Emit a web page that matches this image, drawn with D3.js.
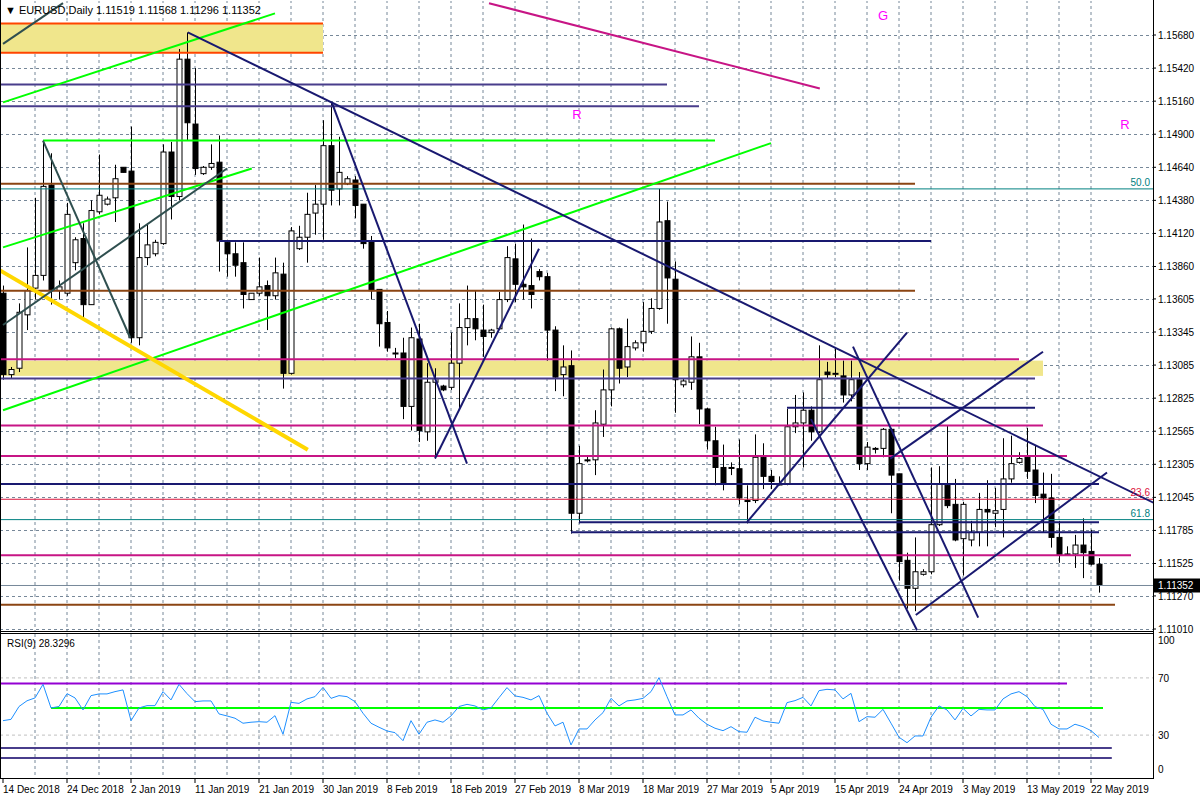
<!DOCTYPE html>
<html>
<head>
<meta charset="utf-8">
<script src="https://cdn.jsdelivr.net/npm/d3@7"></script>
<style>
  body { margin: 0; background: #fff; }
  svg text { font-family: "Liberation Sans", Arial, sans-serif; }
</style>
</head>
<body>
<div id="chart"></div>
<script>
// EURUSD daily candles [open, high, low, close]
const candles = [
  [1.1365,1.1371,1.1297,1.1301],[1.1301,1.1307,1.1298,1.1305],[1.1306,1.1357,1.1303,1.1350],[1.1348,1.1401,1.1336,1.1367],
  [1.1369,1.1440,1.1360,1.1379],[1.1379,1.1485,1.1375,1.1449],[1.1450,1.1475,1.1356,1.1367],[1.1367,1.1375,1.1360,1.1370],
  [1.1365,1.1436,1.1363,1.1427],[1.1389,1.1409,1.1383,1.1407],[1.1408,1.1420,1.1346,1.1356],[1.1356,1.1438,1.1356,1.1430],
  [1.1429,1.1474,1.1427,1.1442],[1.1435,1.1441,1.1434,1.1439],[1.1440,1.1466,1.1421,1.1455],[1.1464,1.1464,1.1460,1.1460],
  [1.1461,1.1496,1.1326,1.1330],[1.1330,1.1420,1.1324,1.1393],[1.1393,1.1420,1.1387,1.1403],[1.1396,1.1407,1.1394,1.1405],
  [1.1404,1.1482,1.1403,1.1476],[1.1476,1.1484,1.1423,1.1441],[1.1441,1.1557,1.1438,1.1549],[1.1549,1.1570,1.1485,1.1499],
  [1.1498,1.1542,1.1458,1.1463],[1.1459,1.1465,1.1458,1.1464],[1.1464,1.1482,1.1462,1.1467],[1.1468,1.1489,1.1382,1.1406],
  [1.1405,1.1407,1.1378,1.1396],[1.1396,1.1405,1.1378,1.1387],[1.1389,1.1405,1.1353,1.1364],[1.1360,1.1365,1.1360,1.1365],
  [1.1365,1.1393,1.1363,1.1370],[1.1371,1.1375,1.1336,1.1363],[1.1363,1.1393,1.1360,1.1381],[1.1380,1.1389,1.1290,1.1302],
  [1.1302,1.1417,1.1301,1.1414],[1.1400,1.1418,1.1399,1.1409],[1.1409,1.1444,1.1389,1.1427],[1.1428,1.1450,1.1411,1.1435],
  [1.1435,1.1501,1.1407,1.1481],[1.1481,1.1515,1.1434,1.1446],[1.1447,1.1488,1.1434,1.1460],[1.1451,1.1457,1.1450,1.1455],
  [1.1454,1.1457,1.1424,1.1434],[1.1435,1.1435,1.1400,1.1404],[1.1406,1.1410,1.1360,1.1367],[1.1368,1.1368,1.1323,1.1341],
  [1.1342,1.1351,1.1319,1.1322],[1.1318,1.1322,1.1314,1.1318],[1.1318,1.1330,1.1266,1.1276],[1.1276,1.1338,1.1257,1.1330],
  [1.1329,1.1341,1.1248,1.1257],[1.1256,1.1310,1.1249,1.1295],[1.1295,1.1306,1.1235,1.1298],[1.1292,1.1293,1.1288,1.1289],
  [1.1291,1.1334,1.1289,1.1310],[1.1310,1.1357,1.1274,1.1338],[1.1338,1.1371,1.1324,1.1345],[1.1345,1.1367,1.1328,1.1337],
  [1.1336,1.1356,1.1315,1.1331],[1.1334,1.1337,1.1330,1.1336],[1.1337,1.1366,1.1336,1.1360],[1.1360,1.1402,1.1358,1.1393],
  [1.1392,1.1404,1.1358,1.1372],[1.1372,1.1419,1.1360,1.1370],[1.1371,1.1408,1.1353,1.1364],[1.1382,1.1384,1.1375,1.1378],
  [1.1378,1.1381,1.1312,1.1336],[1.1336,1.1339,1.1288,1.1299],[1.1301,1.1324,1.1284,1.1307],[1.1308,1.1320,1.1176,1.1192],
  [1.1192,1.1245,1.1184,1.1231],[1.1234,1.1237,1.1232,1.1234],[1.1234,1.1273,1.1222,1.1263],[1.1262,1.1305,1.1252,1.1289],
  [1.1289,1.1338,1.1276,1.1337],[1.1337,1.1338,1.1294,1.1306],[1.1307,1.1345,1.1299,1.1323],[1.1322,1.1328,1.1320,1.1326],
  [1.1326,1.1358,1.1319,1.1335],[1.1335,1.1361,1.1333,1.1353],[1.1353,1.1447,1.1352,1.1421],[1.1422,1.1437,1.1341,1.1377],
  [1.1376,1.1390,1.1271,1.1297],[1.1293,1.1298,1.1291,1.1296],[1.1295,1.1331,1.1289,1.1315],[1.1315,1.1326,1.1262,1.1274],
  [1.1274,1.1275,1.1242,1.1249],[1.1249,1.1260,1.1214,1.1228],[1.1228,1.1246,1.1210,1.1215],[1.1228,1.1232,1.1222,1.1228],
  [1.1227,1.1250,1.1199,1.1204],[1.1202,1.1214,1.1184,1.1202],[1.1202,1.1254,1.1200,1.1236],[1.1236,1.1247,1.1211,1.1221],
  [1.1221,1.1226,1.1211,1.1217],[1.1215,1.1221,1.1214,1.1215],[1.1215,1.1274,1.1214,1.1260],[1.1260,1.1285,1.1255,1.1263],
  [1.1263,1.1287,1.1228,1.1273],[1.1273,1.1276,1.1249,1.1256],[1.1256,1.1324,1.1255,1.1297],[1.1303,1.1311,1.1298,1.1301],
  [1.1302,1.1322,1.1299,1.1302],[1.1300,1.1312,1.1279,1.1285],[1.1285,1.1312,1.1280,1.1297],[1.1297,1.1303,1.1226,1.1231],
  [1.1231,1.1248,1.1226,1.1244],[1.1243,1.1244,1.1239,1.1243],[1.1243,1.1259,1.1236,1.1258],[1.1258,1.1259,1.1192,1.1222],
  [1.1223,1.1223,1.1139,1.1154],[1.1155,1.1161,1.1117,1.1133],[1.1133,1.1173,1.1115,1.1146],[1.1144,1.1148,1.1143,1.1146],
  [1.1146,1.1228,1.1144,1.1183],[1.1183,1.1229,1.1182,1.1215],[1.1214,1.1261,1.1196,1.1198],[1.1199,1.1219,1.1170,1.1171],
  [1.1172,1.1201,1.1143,1.1199],[1.1171,1.1186,1.1166,1.1177],[1.1177,1.1208,1.1166,1.1195],[1.1195,1.1218,1.1166,1.1193],
  [1.1192,1.1212,1.1181,1.1194],[1.1195,1.1251,1.1173,1.1219],[1.1219,1.1253,1.1216,1.1231],[1.1232,1.1240,1.1231,1.1235],
  [1.1236,1.1259,1.1219,1.1225],[1.1226,1.1245,1.1200,1.1206],[1.1207,1.1224,1.1177,1.1204],[1.1204,1.1223,1.1165,1.1173],
  [1.1173,1.1186,1.1153,1.1159],[1.1160,1.1166,1.1159,1.1160],[1.1160,1.1175,1.1149,1.1167],[1.1167,1.1188,1.1141,1.1161],
  [1.1162,1.1179,1.1151,1.1152],[1.11519,1.11568,1.11296,1.11352]
];

// RSI(9)
const rsi = [
  40.1,41,50,54,56,65.5,49,50,59,56,47.6,57.6,58.8,58.8,60.4,61.6,40.1,49,50.6,50.6,
  60.4,54.6,65.5,59,53.4,53.9,53.9,44.8,43.4,41.8,38.3,39,39.4,39,43.6,30.6,52.9,52.2,55.3,56.9,
  63.4,55.7,57.6,56.9,53.4,45.3,38.3,35.5,32.9,31.7,26.1,40.1,30.6,39,40.6,39,43.4,50,51.5,50.4,
  47.6,49,56.2,63.2,57.4,56.4,54.6,57.6,45.3,36.4,39,23.1,34.3,34.3,40.6,45.7,55.7,50.4,53.9,54.6,
  55.7,60.4,70.2,56.9,44.1,44.1,47.6,41.8,37.6,34.8,33.1,35.9,32.4,32,42.5,39.9,39,38.3,52.7,54.1,
  56.4,50.4,61.1,62,61.6,55.3,59.2,39.4,42.9,42.5,48,38.3,28.5,24.7,29.4,29.4,42.5,50.4,47.6,40.6,
  48.7,43.4,48,47.6,47.6,55.3,58.8,60.4,56.9,49.9,48,37.6,34.3,34.3,37.6,35.9,33.1,28.3
];

const dateLabels = ['14 Dec 2018','24 Dec 2018','2 Jan 2019','11 Jan 2019','21 Jan 2019','30 Jan 2019',
  '8 Feb 2019','18 Feb 2019','27 Feb 2019','8 Mar 2019','18 Mar 2019','27 Mar 2019','5 Apr 2019',
  '15 Apr 2019','24 Apr 2019','3 May 2019','13 May 2019','22 May 2019'];
const priceTicks = [1.15680,1.15420,1.15160,1.14900,1.14640,1.14380,1.14120,1.13860,1.13605,1.13345,
  1.13085,1.12825,1.12565,1.12305,1.12045,1.11785,1.11525,1.11270,1.11010];
const rsiTicks = [100,70,30,0];

// zones [priceTop, priceBottom, barFrom, barTo]
const zones = [[1.1577,1.1554,-1,40],[1.1312,1.1300,-1,130]];
// horizontal levels [price, barFrom, barTo, color, width]
const levels = [
  [1.1577,-1,40,'#ff4500',2],[1.1554,-1,40,'#ff4500',2],
  [1.1529,-1,83,'#483d8b',2],[1.1512,-1,87,'#483d8b',2],[1.1485,5,89,'#00ff00',2],
  [1.1451,-1,114,'#8b4513',2],[1.1447,-1,145,'#008080',1],[1.1406,27,116,'#191970',2],
  [1.1367,-1,114,'#8b4513',2],[1.1313,-1,127,'#c71585',2],[1.1298,-1,129,'#483d8b',2],
  [1.1275,98,129,'#191970',2],[1.1261,-1,130,'#c71585',2],[1.1237,-1,133,'#c71585',2],
  [1.1215,-1,137,'#191970',2],[1.1203,-1,145,'#dc143c',1],[1.1187,-1,145,'#008080',1],
  [1.1185,72,137,'#191970',2],[1.1177,71,137,'#191970',2],[1.1159,-1,141,'#c71585',2],
  [1.11352,-1,145,'#778899',1],[1.1120,-1,139,'#8b4513',2]
];
// trend lines [bar1, price1, bar2, price2, color, width]
const trendLines = [
  [0,1.1561,7.5,1.1593,'#2f4f4f',2],[0,1.1515,34,1.1585,'#00ff00',2],[0,1.1401,31.1,1.1463,'#00ff00',2],
  [0,1.1273,96,1.1483,'#00ff00',2],[-0.4,1.1383,38.1,1.1242,'#ffd700',4],[5,1.1485,15.9,1.1330,'#2f4f4f',2],
  [0,1.1340,28,1.1463,'#2f4f4f',2],[23.1,1.1570,143.9,1.1200,'#191970',2],[41.1,1.1515,58,1.1231,'#191970',2],
  [54,1.1235,67,1.1400,'#191970',2],[106.25,1.1323,121.9,1.1110,'#191970',2],[101,1.1266,114.25,1.1100,'#191970',2],
  [93,1.1185,113,1.1334,'#191970',2],[110.9,1.1235,130,1.1319,'#191970',2],[114.1,1.1112,138,1.1224,'#191970',2],
  [60.75,1.1593,102.1,1.1526,'#c71585',2]
];
const fibLabels = [[1.1447,'50.0','#008080'],[1.1203,'23.6','#dc143c'],[1.1187,'61.8','#008080']];
const letters = [[110,1.1580,'G'],[71.75,1.1502,'R'],[140.25,1.1494,'R']];
// RSI levels [value, barFrom, barTo, color]
const rsiLevels = [[66,-1,133,'#9400d3'],[49,6,137.5,'#00ff00'],[21,-1,138.6,'#483d8b'],[14,-1,138.6,'#483d8b']];

const W = 1200, H = 800, axisX = 1153;
const svg = d3.select('#chart').append('svg').attr('width', W).attr('height', H);

const x = d3.scaleLinear().domain([0, 137]).range([3, 1099]);
const y = d3.scaleLinear().domain([1.1101, 1.1568]).range([629, 35]);
const yr = d3.scaleLinear().domain([0, 100]).range([778, 635]);

const defs = svg.append('defs');
defs.append('clipPath').attr('id', 'mainClip').append('rect').attr('x', 1).attr('y', 1).attr('width', axisX - 1).attr('height', 630);
defs.append('clipPath').attr('id', 'rsiClip').append('rect').attr('x', 1).attr('y', 634).attr('width', axisX - 1).attr('height', 144);

const gridColor = '#778899';
const main = svg.append('g').attr('clip-path', 'url(#mainClip)');

// GRID
const vBars = d3.range(4, 140, 4);
main.selectAll('.vg').data(vBars).join('line')
  .attr('x1', d => x(d)).attr('x2', d => x(d)).attr('y1', 0).attr('y2', 631)
  .attr('stroke', gridColor).attr('stroke-dasharray', '3,3');
main.selectAll('.hg').data(priceTicks).join('line')
  .attr('x1', 0).attr('x2', axisX).attr('y1', d => Math.round(y(d)) + 0.5).attr('y2', d => Math.round(y(d)) + 0.5)
  .attr('stroke', gridColor).attr('stroke-dasharray', '3,3');

// ZONES
main.selectAll('.zone').data(zones).join('rect')
  .attr('x', d => x(d[2])).attr('width', d => x(d[3]) - x(d[2]))
  .attr('y', d => y(d[0])).attr('height', d => y(d[1]) - y(d[0]))
  .attr('fill', '#f0e68c');

// CANDLES
const cg = main.append('g');
cg.selectAll('.wick').data(candles).join('line')
  .attr('x1', (d, i) => Math.round(x(i)) + 0.5).attr('x2', (d, i) => Math.round(x(i)) + 0.5)
  .attr('y1', d => y(d[1])).attr('y2', d => y(d[2])).attr('stroke', '#000');
cg.selectAll('.body').data(candles).join('rect')
  .attr('x', (d, i) => Math.round(x(i)) - 2)
  .attr('y', d => y(Math.max(d[0], d[3])))
  .attr('width', 5)
  .attr('height', d => Math.max(1, Math.abs(y(d[0]) - y(d[3]))))
  .attr('fill', d => d[3] >= d[0] ? '#fff' : '#000')
  .attr('stroke', '#000');

// LEVELS
main.selectAll('.lvl').data(levels).join('line')
  .attr('x1', d => x(d[1])).attr('x2', d => x(d[2]))
  .attr('y1', d => y(d[0])).attr('y2', d => y(d[0]))
  .attr('stroke', d => d[3]).attr('stroke-width', d => d[4]);

// TREND LINES
main.selectAll('.tl').data(trendLines).join('line')
  .attr('x1', d => x(d[0])).attr('y1', d => y(d[1]))
  .attr('x2', d => x(d[2])).attr('y2', d => y(d[3]))
  .attr('stroke', d => d[4]).attr('stroke-width', d => d[5]);

main.selectAll('.fib').data(fibLabels).join('text')
  .attr('x', axisX - 3).attr('y', d => y(d[0]) - 3).attr('text-anchor', 'end')
  .attr('font-size', 10).attr('fill', d => d[2]).text(d => d[1]);

main.selectAll('.let').data(letters).join('text')
  .attr('x', d => x(d[0])).attr('y', d => y(d[1])).attr('text-anchor', 'middle')
  .attr('font-size', 13).attr('fill', '#ff00ff').text(d => d[2]);

svg.append('text').attr('x', 5).attr('y', 14).attr('font-size', 11).attr('fill', '#000')
  .text('\u25BC EURUSD,Daily  1.11519 1.11568 1.11296 1.11352');

// PRICE AXIS
svg.selectAll('.pt').data(priceTicks).join('text')
  .attr('x', 1158).attr('y', d => y(d) + 4).attr('font-size', 10).attr('fill', '#000')
  .text(d => d.toFixed(5));
svg.selectAll('.ptk').data(priceTicks).join('line')
  .attr('x1', axisX).attr('x2', axisX + 3).attr('y1', d => y(d)).attr('y2', d => y(d)).attr('stroke', '#000');
const last = candles[candles.length - 1][3];
svg.append('rect').attr('x', axisX + 1).attr('y', y(last) - 7).attr('width', 46).attr('height', 14).attr('fill', '#000');
svg.append('text').attr('x', 1158).attr('y', y(last) + 4).attr('font-size', 10).attr('fill', '#fff').text(last.toFixed(5));

// RSI PANE
const rg = svg.append('g').attr('clip-path', 'url(#rsiClip)');
rg.selectAll('.rvg').data(vBars).join('line')
  .attr('x1', d => x(d)).attr('x2', d => x(d)).attr('y1', 634).attr('y2', 778)
  .attr('stroke', gridColor).attr('stroke-dasharray', '3,3');
rg.selectAll('.rhg').data([70, 30]).join('line')
  .attr('x1', 0).attr('x2', axisX).attr('y1', d => yr(d)).attr('y2', d => yr(d))
  .attr('stroke', '#c0c0c0').attr('stroke-dasharray', '3,3');
rg.selectAll('.rl').data(rsiLevels).join('line')
  .attr('x1', d => x(d[1])).attr('x2', d => x(d[2])).attr('y1', d => yr(d[0])).attr('y2', d => yr(d[0]))
  .attr('stroke', d => d[3]).attr('stroke-width', 2);
rg.append('path').datum(rsi)
  .attr('d', d3.line().x((d, i) => x(i)).y(d => yr(d)))
  .attr('fill', 'none').attr('stroke', '#1e90ff').attr('stroke-width', 1);
svg.append('text').attr('x', 7).attr('y', 647).attr('font-size', 10).attr('fill', '#000').text('RSI(9) 28.3296');
svg.selectAll('.rt').data(rsiTicks).join('text')
  .attr('x', 1158).attr('y', d => Math.min(773, Math.max(644, yr(d) + 4))).attr('font-size', 10).attr('fill', '#000')
  .text(d => d);

// FRAMES
svg.append('line').attr('x1', axisX + 0.5).attr('x2', axisX + 0.5).attr('y1', 0).attr('y2', 779).attr('stroke', '#000');
svg.append('line').attr('x1', 0).attr('x2', axisX).attr('y1', 631.5).attr('y2', 631.5).attr('stroke', '#000');
svg.append('line').attr('x1', 0).attr('x2', axisX).attr('y1', 633.5).attr('y2', 633.5).attr('stroke', '#000');
svg.append('line').attr('x1', 0).attr('x2', axisX).attr('y1', 778.5).attr('y2', 778.5).attr('stroke', '#000');
svg.append('line').attr('x1', 0.5).attr('x2', 0.5).attr('y1', 0).attr('y2', 779).attr('stroke', '#000');

// DATE AXIS
svg.selectAll('.dl').data(dateLabels).join('text')
  .attr('x', (d, i) => x(i * 8)).attr('y', 793).attr('font-size', 10).attr('fill', '#000').text(d => d);
svg.selectAll('.dtk').data(dateLabels).join('line')
  .attr('x1', (d, i) => x(i * 8)).attr('x2', (d, i) => x(i * 8)).attr('y1', 779).attr('y2', 783).attr('stroke', '#000');
</script>
</body>
</html>
